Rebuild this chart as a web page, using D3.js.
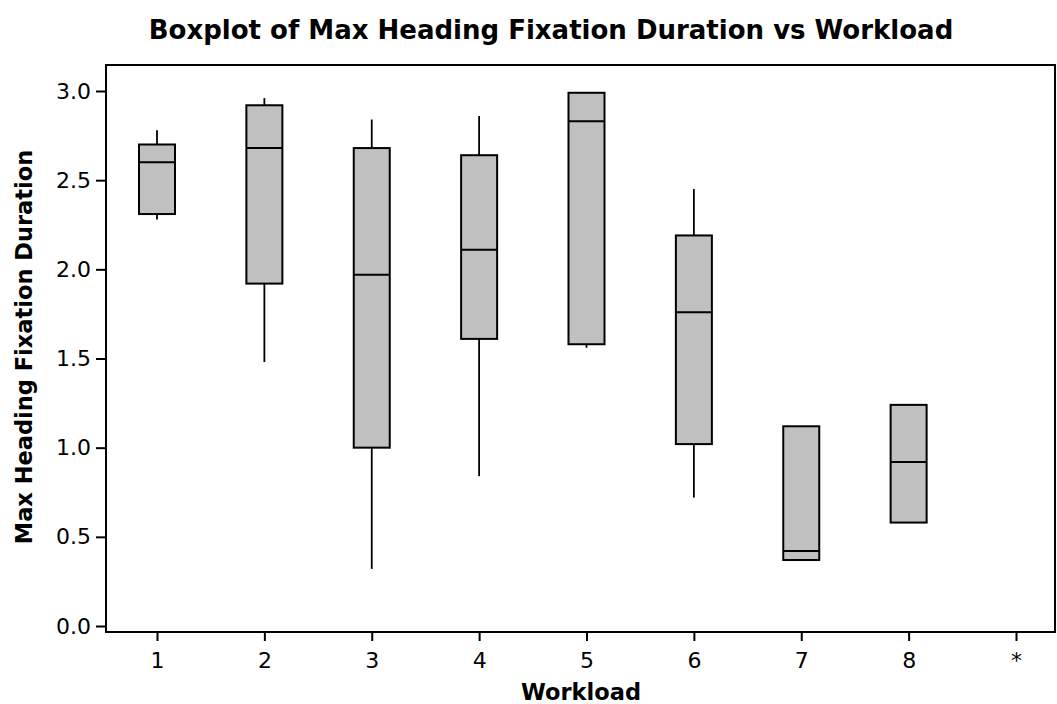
<!DOCTYPE html>
<html>
<head>
<meta charset="utf-8">
<script src="https://cdn.jsdelivr.net/npm/d3@7"></script>
<style>
  body { margin: 0; background: #fff; }
  svg { display: block; }
  text { font-family: "DejaVu Sans", Verdana, sans-serif; fill: #000; }
</style>
</head>
<body>
<div id="svg-container"></div>
<script>
// data
const workloads = ["1", "2", "3", "4", "5", "6", "7", "8", "*"];
const whiskerHigh = [2.78, 2.96, 2.84, 2.86, null, 2.45, null, null, null];
const q3 = [2.70, 2.92, 2.68, 2.64, 2.99, 2.19, 1.12, 1.24, null];
const median = [2.60, 2.68, 1.97, 2.11, 2.83, 1.76, 0.42, 0.92, null];
const q1 = [2.31, 1.92, 1.00, 1.61, 1.58, 1.02, 0.37, 0.58, null];
const whiskerLow = [2.28, 1.48, 0.32, 0.84, 1.56, 0.72, null, null, null];
const yTicks = [0, 0.5, 1, 1.5, 2, 2.5, 3];

const width = 1057;
const height = 704;
const frame = { left: 106, top: 65, right: 1055, bottom: 632 };

const svg = d3.select("#svg-container").append("svg")
  .attr("width", width).attr("height", height);

// scales
const xScale = d3.scalePoint().domain(workloads).range([157, 1016]);
const yScale = d3.scaleLinear().domain([0, 3]).range([626, 91]);
const boxW = 36;

const boxes = workloads.map((w, i) => ({
  w, hi: whiskerHigh[i], q3: q3[i], med: median[i], q1: q1[i], lo: whiskerLow[i]
})).filter(d => d.q3 != null);

// frame
svg.append("rect")
  .attr("x", frame.left).attr("y", frame.top)
  .attr("width", frame.right - frame.left)
  .attr("height", frame.bottom - frame.top)
  .attr("fill", "none").attr("stroke", "#000").attr("stroke-width", 2);

// axes
const yAxis = d3.axisLeft(yScale).tickValues(yTicks).tickFormat(d3.format(".1f"))
  .tickSizeOuter(0).tickSizeInner(10).tickPadding(5);
const gy = svg.append("g").attr("transform", `translate(${frame.left},0)`).call(yAxis);
gy.select(".domain").remove();
gy.selectAll("line").attr("stroke-width", 2);
gy.selectAll("text").style("font-size", "22px");

const xAxis = d3.axisBottom(xScale).tickSizeOuter(0).tickSizeInner(9).tickPadding(11);
const gx = svg.append("g").attr("transform", `translate(0,${frame.bottom})`).call(xAxis);
gx.select(".domain").remove();
gx.selectAll("line").attr("stroke-width", 2);
gx.selectAll("text").style("font-size", "22px");

// whiskers
const g = svg.append("g");
g.selectAll(".wh").data(boxes.filter(d => d.hi != null)).join("line")
  .attr("x1", d => xScale(d.w)).attr("x2", d => xScale(d.w))
  .attr("y1", d => yScale(d.hi)).attr("y2", d => yScale(d.q3))
  .attr("stroke", "#000").attr("stroke-width", 1.8);
g.selectAll(".wl").data(boxes.filter(d => d.lo != null)).join("line")
  .attr("x1", d => xScale(d.w)).attr("x2", d => xScale(d.w))
  .attr("y1", d => yScale(d.q1)).attr("y2", d => yScale(d.lo))
  .attr("stroke", "#000").attr("stroke-width", 1.8);

// boxes
g.selectAll("rect.box").data(boxes).join("rect")
  .attr("class", "box")
  .attr("x", d => xScale(d.w) - boxW / 2)
  .attr("width", boxW)
  .attr("y", d => yScale(d.q3))
  .attr("height", d => yScale(d.q1) - yScale(d.q3))
  .attr("fill", "#c0c0c0").attr("stroke", "#000").attr("stroke-width", 2);

// medians
g.selectAll("line.med").data(boxes).join("line")
  .attr("class", "med")
  .attr("x1", d => xScale(d.w) - boxW / 2).attr("x2", d => xScale(d.w) + boxW / 2)
  .attr("y1", d => yScale(d.med)).attr("y2", d => yScale(d.med))
  .attr("stroke", "#000").attr("stroke-width", 2);

// titles
svg.append("text")
  .attr("x", 551).attr("y", 39)
  .attr("text-anchor", "middle")
  .style("font-size", "26px").style("font-weight", "bold")
  .text("Boxplot of Max Heading Fixation Duration vs Workload");

svg.append("text")
  .attr("x", 581).attr("y", 700)
  .attr("text-anchor", "middle")
  .style("font-size", "22.5px").style("font-weight", "bold")
  .text("Workload");

svg.append("text")
  .attr("transform", "translate(32,347) rotate(-90)")
  .attr("text-anchor", "middle")
  .style("font-size", "22.5px").style("font-weight", "bold")
  .text("Max Heading Fixation Duration");
</script>
</body>
</html>
